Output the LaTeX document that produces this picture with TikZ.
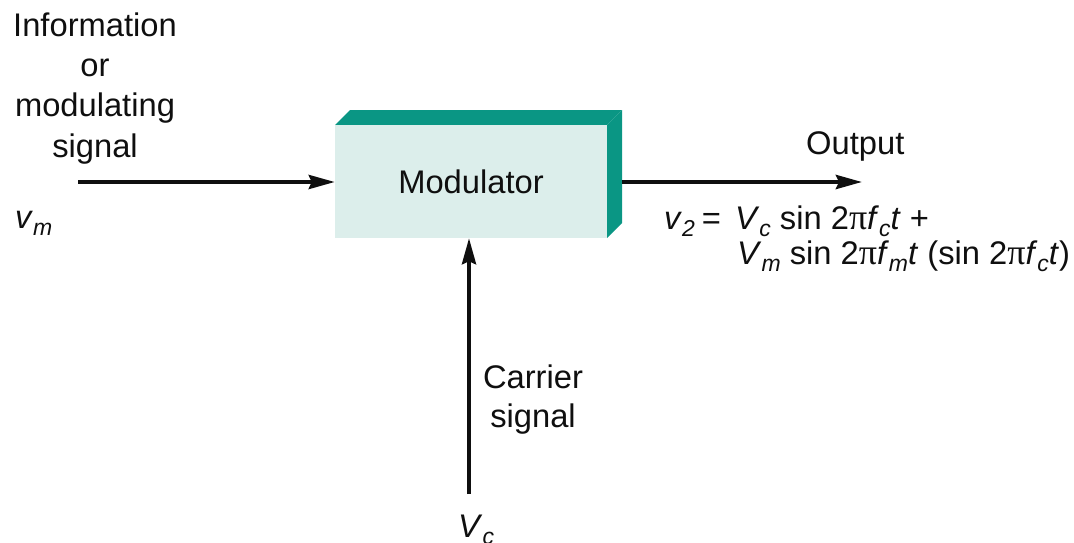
\documentclass[tikz,border=0pt]{standalone}
\usepackage{fontspec}
\setmainfont{Liberation Sans}
\newfontfamily\pifont{Liberation Serif}
\usetikzlibrary{arrows.meta}
\definecolor{ink}{RGB}{15,15,15}
\definecolor{facecol}{RGB}{220,238,235}
\definecolor{tealcol}{RGB}{10,150,132}
\newcommand\bigtxt{\fontsize{32.7}{39}\selectfont}
\newcommand\sbs[1]{\raisebox{-7.5pt}{\fontsize{23}{23}\selectfont\itshape #1}}
\newcommand\mypi{{\pifont\fontsize{36}{36}\selectfont π}}
\tikzset{
  txt/.style={inner sep=0pt, anchor=base, font=\bigtxt, text=ink},
  txtw/.style={txt, anchor=base west},
  arr/.style={draw=ink, line width=4pt, -{Stealth[length=26pt,width=14pt,inset=3pt]}},
}
\begin{document}
\begin{tikzpicture}[x=1pt,y=-1pt]
\useasboundingbox (0,0) rectangle (1074,543);
% block
\fill[tealcol] (335,125) -- (350,110) -- (622,110) -- (607,125) -- cycle;
\fill[tealcol] (607,125) -- (622,110) -- (622,223) -- (607,238) -- cycle;
\node[fill=facecol, inner sep=0pt, minimum width=272pt, minimum height=113pt, font=\bigtxt, text=ink] (mod) at (471,181.5) {Modulator};
% input label
\node[txt] (l1) at (95,37) {Information};
\node[txt] (l2) at (95,77) {or};
\node[txt] (l3) at (95,117) {modulating};
\node[txt] (l4) at (95,157) {signal};
\node[txtw] (vm) at (15,228) {\textit{v}\sbs{m}};
\coordinate (inL) at (78,182);
\draw[arr] (inL) -- (inL -| mod.west);
% output
\coordinate (outS) at (622,182);
\coordinate (outE) at (862,182);
\draw[arr] (outS) -- (outE);
\node[txtw] (outlbl) at (806,154) {Output};
\node[txtw] (eq1) at (664,229) {\textit{v}\sbs{2}\hspace{7pt}=\hspace{14pt}\textit{V}\sbs{c} sin 2\mypi\textit{f}\sbs{c}\textit{t} +};
\node[txtw] (eq2) at (737,264) {\textit{V}\sbs{m} sin 2\mypi\textit{f}\sbs{m}\textit{t} (sin 2\mypi\textit{f}\sbs{c}\textit{t})};
% carrier
\coordinate (carB) at (469,494);
\draw[arr] (carB) -- (carB |- mod.south);
\node[txt] (c1) at (533,388) {Carrier};
\node[txt] (c2) at (533,427) {signal};
\node[txtw] (vc) at (458,537) {\textit{V}\sbs{c}};
\end{tikzpicture}
\end{document}
